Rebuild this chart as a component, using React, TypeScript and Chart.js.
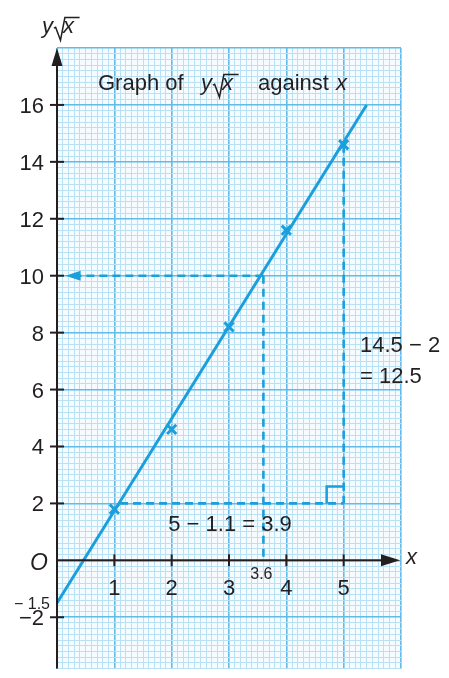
import React, { useEffect, useRef } from "react";
import { Chart, registerables } from "chart.js";
Chart.register(...registerables);

// ---- data ----
const pointX = [1, 2, 3, 4, 5];
const pointY = [1.8, 4.6, 8.2, 11.6, 14.6];
const lineX = [0, 5.4];
const lineY = [-1.5, 16];
const xTickValues = [1, 2, 3, 4, 5];
const yTickValues = [-2, 2, 4, 6, 8, 10, 12, 14, 16];
const readX = 3.6;
const readY = 10;
const arrowTipX = 0.15;
const gradX = [1.1, 5];
const gradY = [2, 14.6];
const X_MIN = 0, X_MAX = 6, Y_MIN = -3.8, Y_MAX = 18;

const BLUE = "#1a9fdc";
const INK = "#231f20";
const MINOR = "#b8e1f4";
const MAJOR = "#62bce7";
const FONT = '"Liberation Sans", Arial, Helvetica, sans-serif';

function isMajor(v: number, step: number) {
  const r = v / step;
  return Math.abs(r - Math.round(r)) < 1e-6;
}

function drawRoot(ctx: CanvasRenderingContext2D, x: number, b: number, s: number) {
  ctx.font = `italic ${s}px ${FONT}`;
  ctx.textAlign = "left";
  ctx.textBaseline = "alphabetic";
  ctx.fillText("y", x, b);
  const wy = ctx.measureText("y").width;
  const x0 = x + wy + 0.04 * s;
  const topY = b - 0.7 * s;
  ctx.beginPath();
  ctx.moveTo(x0, b - 0.22 * s);
  ctx.lineTo(x0 + 0.08 * s, b - 0.26 * s);
  ctx.lineTo(x0 + 0.3 * s, b + 0.33 * s);
  ctx.lineTo(x0 + 0.5 * s, topY);
  const xt = x0 + 0.42 * s;
  const wx = ctx.measureText("x").width;
  ctx.lineTo(xt + wx + 0.25 * s, topY);
  ctx.lineWidth = 1.5;
  ctx.strokeStyle = INK;
  ctx.stroke();
  ctx.fillText("x", xt, b);
  return xt + wx + 0.25 * s;
}

const drawPlugin = {
  id: "drawExtras",
  beforeDraw(chart: any) {
    const { ctx, chartArea: a } = chart;
    ctx.save();
    ctx.fillStyle = "#f5fbfe";
    ctx.fillRect(a.left, a.top, a.right - a.left, a.bottom - a.top);
    ctx.restore();
  },
  afterDatasetsDraw(chart: any) {
    const { ctx } = chart;
    const xs = chart.scales.x, ys = chart.scales.y;
    ctx.save();
    // arrow head on reading line
    const tx = xs.getPixelForValue(arrowTipX);
    const ty = ys.getPixelForValue(readY);
    ctx.fillStyle = BLUE;
    ctx.beginPath();
    ctx.moveTo(tx, ty);
    ctx.lineTo(tx + 15, ty - 5);
    ctx.lineTo(tx + 15, ty + 5);
    ctx.closePath();
    ctx.fill();
    // right angle marker
    const cx = xs.getPixelForValue(gradX[1]);
    const cy = ys.getPixelForValue(gradY[0]);
    ctx.strokeStyle = BLUE;
    ctx.lineWidth = 2.5;
    ctx.setLineDash([]);
    ctx.beginPath();
    ctx.moveTo(cx - 17, cy);
    ctx.lineTo(cx - 17, cy - 17);
    ctx.lineTo(cx, cy - 17);
    ctx.stroke();
    ctx.restore();
  },
  afterDraw(chart: any) {
    const { ctx, chartArea: a } = chart;
    const xs = chart.scales.x, ys = chart.scales.y;
    const ox = xs.getPixelForValue(0);
    const oy = ys.getPixelForValue(0);
    ctx.save();
    ctx.strokeStyle = INK;
    ctx.fillStyle = INK;
    ctx.lineWidth = 2;
    // y axis
    const yTop = ys.getPixelForValue(Y_MAX);
    ctx.beginPath();
    ctx.moveTo(ox, a.bottom);
    ctx.lineTo(ox, yTop + 14);
    ctx.stroke();
    ctx.beginPath();
    ctx.moveTo(ox, yTop);
    ctx.lineTo(ox - 5.5, yTop + 18);
    ctx.lineTo(ox + 5.5, yTop + 18);
    ctx.closePath();
    ctx.fill();
    // x axis
    const xRight = xs.getPixelForValue(X_MAX) - 1;
    ctx.beginPath();
    ctx.moveTo(ox, oy);
    ctx.lineTo(xRight - 14, oy);
    ctx.stroke();
    ctx.beginPath();
    ctx.moveTo(xRight, oy);
    ctx.lineTo(xRight - 19, oy - 6);
    ctx.lineTo(xRight - 19, oy + 6);
    ctx.closePath();
    ctx.fill();
    // ticks
    ctx.lineWidth = 2;
    for (const v of yTickValues) {
      const p = ys.getPixelForValue(v);
      ctx.beginPath();
      ctx.moveTo(ox - 7, p);
      ctx.lineTo(ox + 7, p);
      ctx.stroke();
    }
    for (const v of xTickValues) {
      const p = xs.getPixelForValue(v);
      ctx.beginPath();
      ctx.moveTo(p, oy - 6);
      ctx.lineTo(p, oy + 6);
      ctx.stroke();
    }
    // tick labels
    ctx.font = `22px ${FONT}`;
    ctx.textBaseline = "alphabetic";
    ctx.textAlign = "right";
    for (const v of yTickValues) {
      const p = ys.getPixelForValue(v);
      const t = v < 0 ? "\u2212" + Math.abs(v) : String(v);
      ctx.fillText(t, ox - 13, p + 8);
    }
    ctx.textAlign = "center";
    for (const v of xTickValues) {
      const p = xs.getPixelForValue(v);
      ctx.fillText(String(v), p, oy + 35);
    }
    // origin and special labels
    ctx.font = `italic 23px ${FONT}`;
    ctx.textAlign = "right";
    ctx.fillText("O", ox - 9, oy + 10);
    ctx.font = `16px ${FONT}`;
    ctx.fillText("\u2212 1.5", ox - 7, ys.getPixelForValue(lineY[0]) + 6);
    ctx.font = `16px ${FONT}`;
    ctx.textAlign = "center";
    ctx.fillText(String(readX), xs.getPixelForValue(readX) - 2, oy + 19);
    // x axis label
    ctx.font = `italic 22px ${FONT}`;
    ctx.textAlign = "left";
    ctx.fillText("x", xRight + 6, oy + 4);
    // y axis label
    drawRoot(ctx, 42, 33, 22);
    // title
    ctx.font = `22px ${FONT}`;
    ctx.textAlign = "left";
    ctx.fillText("Graph of", 98, 90);
    drawRoot(ctx, 201, 90, 22);
    ctx.font = `22px ${FONT}`;
    ctx.fillText("against", 258, 90);
    ctx.font = `italic 22px ${FONT}`;
    ctx.fillText("x", 336, 90);
    // annotations
    ctx.font = `22px ${FONT}`;
    ctx.fillText("14.5 \u2212 2", 360, 352);
    ctx.fillText("= 12.5", 360, 383);
    ctx.textAlign = "center";
    ctx.fillText("5 \u2212 1.1 = 3.9", 230, 531);
    ctx.restore();
  },
};

export default function App() {
  const ref = useRef<HTMLCanvasElement | null>(null);
  useEffect(() => {
    document.body.style.margin = "0";
    const canvas = ref.current!;
    const dashed = (pts: { x: number; y: number }[]) => ({
      data: pts,
      showLine: true,
      borderColor: BLUE,
      borderWidth: 2.6,
      borderDash: [8, 5],
      pointRadius: 0,
      fill: false,
    });
    const chart = new Chart(canvas, {
      type: "scatter",
      data: {
        datasets: [
          dashed([{ x: readX, y: readY }, { x: arrowTipX + 0.15, y: readY }]),
          dashed([{ x: readX, y: readY }, { x: readX, y: 0 }]),
          dashed([{ x: gradX[0], y: gradY[0] }, { x: gradX[1], y: gradY[0] }]),
          dashed([{ x: gradX[1], y: gradY[1] }, { x: gradX[1], y: gradY[0] }]),
          {
            data: lineX.map((x, i) => ({ x, y: lineY[i] })),
            showLine: true,
            borderColor: BLUE,
            borderWidth: 3,
            pointRadius: 0,
            fill: false,
          },
          {
            data: pointX.map((x, i) => ({ x, y: pointY[i] })),
            showLine: false,
            pointStyle: "crossRot",
            pointRadius: 6.5,
            pointBorderWidth: 3,
            borderColor: BLUE,
            backgroundColor: BLUE,
          },
        ] as any,
      },
      options: {
        responsive: false,
        maintainAspectRatio: false,
        animation: false,
        layout: { padding: { left: 57, right: 48, top: 48, bottom: 0 } },
        plugins: { legend: { display: false }, tooltip: { enabled: false } },
        scales: {
          x: {
            type: "linear",
            min: X_MIN,
            max: X_MAX,
            ticks: { display: false, stepSize: 0.1 },
            border: { display: false },
            grid: {
              drawTicks: false,
              color: (c: any) => (isMajor(c.tick?.value ?? 0.05, 1) ? MAJOR : MINOR),
              lineWidth: (c: any) => (isMajor(c.tick?.value ?? 0.05, 1) ? 1.6 : 1),
            },
          },
          y: {
            type: "linear",
            min: Y_MIN,
            max: Y_MAX,
            ticks: { display: false, stepSize: 0.2 },
            border: { display: false },
            grid: {
              drawTicks: false,
              color: (c: any) => (isMajor(c.tick?.value ?? 0.1, 2) ? MAJOR : MINOR),
              lineWidth: (c: any) => (isMajor(c.tick?.value ?? 0.1, 2) ? 1.6 : 1),
            },
          },
        },
      } as any,
      plugins: [drawPlugin],
    });
    return () => chart.destroy();
  }, []);
  return (
    <div style={{ position: "absolute", left: 0, top: 0, width: 449, height: 678, background: "#fff" }}>
      <canvas ref={ref} width={449} height={678} style={{ width: 449, height: 678, display: "block" }} />
    </div>
  );
}
